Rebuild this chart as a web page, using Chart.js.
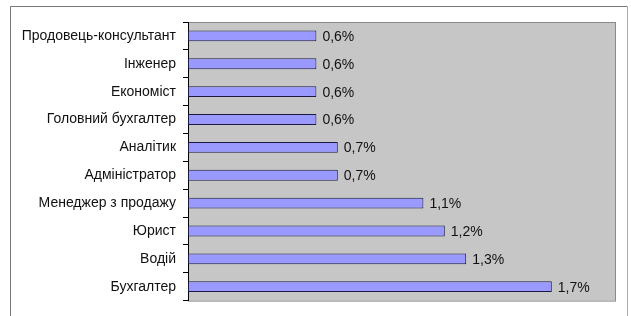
<!DOCTYPE html>
<html>
<head>
<meta charset="utf-8">
<script src="https://cdn.jsdelivr.net/npm/chart.js@4"></script>
<style>
  html, body { margin: 0; padding: 0; background: #fff; }
  #wrap { width: 631px; height: 316px; position: relative; }
</style>
</head>
<body>
<div id="wrap"><canvas id="posadyChart"></canvas></div>
<script>
const posady = [
    'Продовець-консультант',
    'Інженер',
    'Економіст',
    'Головний бухгалтер',
    'Аналітик',
    'Адміністратор',
    'Менеджер з продажу',
    'Юрист',
    'Водій',
    'Бухгалтер'
];
const vidsotky = [0.6, 0.6, 0.6, 0.6, 0.7, 0.7, 1.1, 1.2, 1.3, 1.7];

const shryft = '"Liberation Sans", Arial, sans-serif';

// рамка і сірий фон області графіка
const fonPlugin = {
    id: 'fon',
    beforeDraw(chart) {
        const c = chart.ctx;
        const a = chart.chartArea;
        c.save();
        c.lineWidth = 1;
        c.strokeStyle = '#777';
        c.beginPath();
        c.moveTo(10.5, 320);
        c.lineTo(10.5, 6.5);
        c.lineTo(627.5, 6.5);
        c.stroke();
        c.strokeStyle = '#aaa';
        c.beginPath();
        c.moveTo(627.5, 6.5);
        c.lineTo(627.5, 320);
        c.stroke();
        c.fillStyle = '#c6c6c6';
        c.fillRect(a.left, a.top, a.right - a.left, a.bottom - a.top);
        c.strokeStyle = '#8a8a8a';
        c.strokeRect(a.left + 0.5, a.top + 0.5, a.right - a.left - 1, a.bottom - a.top);
        c.restore();
    }
};

// підписи значень праворуч від стовпчиків
const pidpysy = {
    id: 'pidpysy',
    afterDatasetsDraw(chart) {
        const c = chart.ctx;
        const meta = chart.getDatasetMeta(0);
        c.save();
        c.font = '14px ' + shryft;
        c.fillStyle = '#111';
        c.textBaseline = 'middle';
        c.textAlign = 'left';
        meta.data.forEach((bar, i) => {
            const t = vidsotky[i].toFixed(1).replace('.', ',') + '%';
            c.fillText(t, bar.x + 6, bar.y + 1);
        });
        c.restore();
    }
};

const ctx = document.getElementById('posadyChart').getContext('2d');

new Chart(ctx, {
    type: 'bar',
    data: {
        labels: posady,
        datasets: [{
            data: vidsotky,
            backgroundColor: '#9999ff',
            borderColor: '#1a1a40',
            borderWidth: 1,
            borderSkipped: false,
            categoryPercentage: 1,
            barPercentage: 0.39
        }]
    },
    options: {
        indexAxis: 'y',
        responsive: true,
        maintainAspectRatio: false,
        animation: false,
        layout: {
            padding: { left: 10, top: 22, right: 15, bottom: 11 }
        },
        plugins: {
            legend: { display: false },
            tooltip: { enabled: false }
        },
        scales: {
            x: {
                display: false,
                min: 0,
                max: 2
            },
            y: {
                afterFit(scale) { scale.width = 178; },
                grid: {
                    drawOnChartArea: false,
                    drawTicks: true,
                    tickLength: 5,
                    color: '#000',
                    offset: true
                },
                border: { display: true, color: '#000', width: 1 },
                ticks: {
                    padding: 7,
                    color: '#111',
                    font: { family: shryft, size: 14 }
                }
            }
        }
    },
    plugins: [fonPlugin, pidpysy]
});
</script>
</body>
</html>
